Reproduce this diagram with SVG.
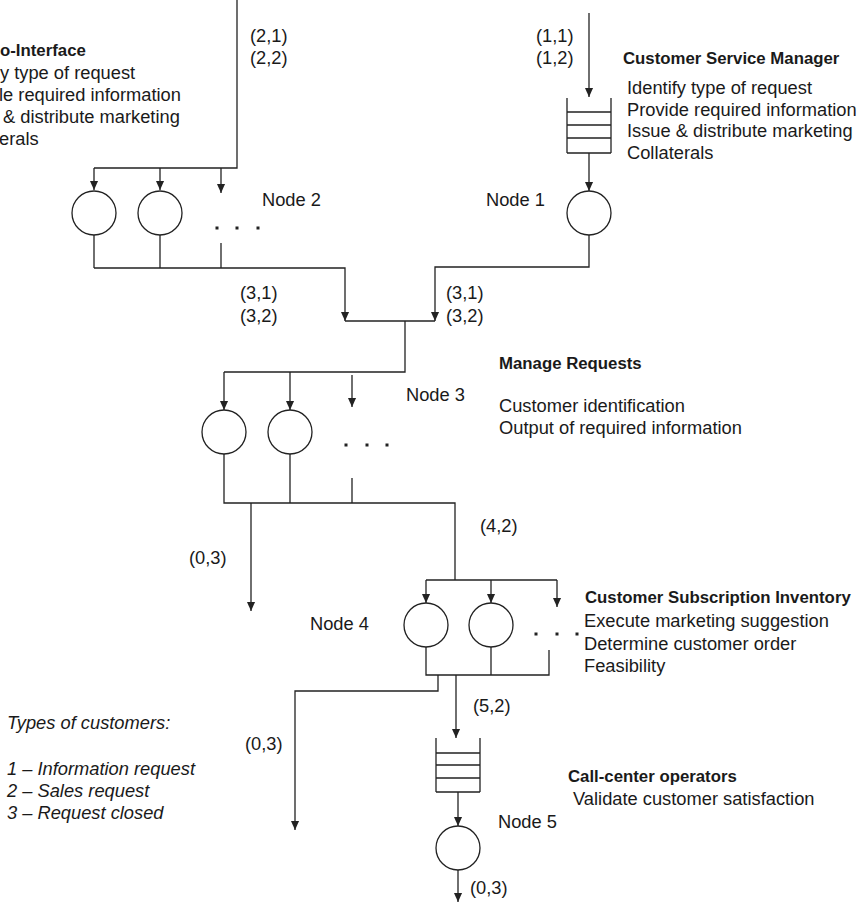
<svg xmlns="http://www.w3.org/2000/svg" width="862" height="904" viewBox="0 0 862 904">
  <defs>
    <marker id="arrow" viewBox="0 0 10 10" refX="10" refY="5" markerWidth="9" markerHeight="9" markerUnits="userSpaceOnUse" orient="auto">
      <path d="M0,0.5 L10,5 L0,9.5 z" fill="#222"/>
    </marker>
    <style>
      .ln { fill: none; stroke: #222; stroke-width: 1.3; }
      .arr { fill: none; stroke: #222; stroke-width: 1.3; marker-end: url(#arrow); }
      .srv { fill: #fff; stroke: #222; stroke-width: 1.3; }
      .q { fill: none; stroke: #222; stroke-width: 1.3; }
      .dot { fill: #222; }
      text { font-family: "Liberation Sans", Arial, sans-serif; font-size: 18.3px; fill: #1a1a1a; }
      .t { font-weight: bold; font-size: 16.8px; }
      .lg { font-style: italic; font-size: 18.3px; }
    </style>
  </defs>
  <rect width="862" height="904" fill="#fff"/>

  <!-- connectors -->
  <g id="connectors">
    <!-- into node 2 -->
    <path class="ln" d="M237,0 V168 H94"/>
    <path class="arr" d="M94,168 V190"/>
    <path class="arr" d="M160,168 V190"/>
    <path class="arr" d="M221,168 V193"/>
    <!-- node 2 outputs to junction -->
    <path class="ln" d="M94,235 V268"/>
    <path class="ln" d="M160,235 V268"/>
    <path class="ln" d="M221,243 V268"/>
    <path class="arr" d="M94,268 H345 V321"/>
    <!-- into node 1 -->
    <path class="arr" d="M589,13 V97"/>
    <path class="arr" d="M589,153 V191"/>
    <path class="arr" d="M589,235 V267 H435 V321"/>
    <!-- junction to node 3 -->
    <path class="ln" d="M345,321 H435"/>
    <path class="ln" d="M405,321 V372 H224"/>
    <path class="arr" d="M224,372 V410"/>
    <path class="arr" d="M290,372 V410"/>
    <path class="arr" d="M352,375 V407"/>
    <!-- node 3 outputs -->
    <path class="ln" d="M224,454 V503 H455 V580"/>
    <path class="ln" d="M290,454 V503"/>
    <path class="ln" d="M352,478 V503"/>
    <path class="arr" d="M251,503 V611"/>
    <!-- into node 4 -->
    <path class="ln" d="M426,580 H557"/>
    <path class="arr" d="M426,580 V603"/>
    <path class="arr" d="M491,580 V603"/>
    <path class="arr" d="M557,580 V607"/>
    <!-- node 4 outputs -->
    <path class="ln" d="M426,647 V675 H549 V650"/>
    <path class="ln" d="M491,647 V675"/>
    <path class="arr" d="M438,675 V691 H295 V830"/>
    <path class="arr" d="M456,675 V738"/>
    <!-- node 5 -->
    <path class="arr" d="M458,792 V826"/>
    <path class="arr" d="M458,870 V902"/>
  </g>

  <!-- routing labels -->
  <g id="routing-labels">
    <text x="250" y="41.5">(2,1)</text>
    <text x="250" y="63.5">(2,2)</text>
    <text x="536" y="41.5">(1,1)</text>
    <text x="536" y="63.5">(1,2)</text>
    <text x="240" y="298.5">(3,1)</text>
    <text x="240" y="321.5">(3,2)</text>
    <text x="446" y="298.5">(3,1)</text>
    <text x="446" y="321.5">(3,2)</text>
    <text x="480" y="531.5">(4,2)</text>
    <text x="189" y="563.5">(0,3)</text>
    <text x="245" y="749.5">(0,3)</text>
    <text x="473" y="711.5">(5,2)</text>
    <text x="470" y="893.5">(0,3)</text>
  </g>

  <!-- node 1: customer service manager -->
  <g id="node1">
    <path class="q" d="M567,98 V153 M611,98 V153 M567,112 H611 M567,125 H611 M567,138 H611 M567,153 H611"/>
    <circle class="srv" cx="589" cy="213" r="22"/>
    <text x="486" y="206">Node 1</text>
    <text class="t" x="623" y="64">Customer Service Manager</text>
    <text x="627" y="94">Identify type of request</text>
    <text x="627" y="115.5">Provide required information</text>
    <text x="627" y="137">Issue &amp; distribute marketing</text>
    <text x="627" y="158.5">Collaterals</text>
  </g>

  <!-- node 2: interface stations -->
  <g id="node2">
    <circle class="srv" cx="94" cy="213" r="22"/>
    <circle class="srv" cx="160" cy="213" r="22"/>
    <rect class="dot" x="215.5" y="226.5" width="3" height="3"/>
    <rect class="dot" x="235.5" y="226.5" width="3" height="3"/>
    <rect class="dot" x="256.5" y="226.5" width="3" height="3"/>
    <text x="262" y="206">Node 2</text>
    <text class="t" x="0" y="56">o-Interface</text>
    <text x="0" y="79">y type of request</text>
    <text x="-1" y="101">le required information</text>
    <text x="3" y="123">&amp; distribute marketing</text>
    <text x="-1" y="145">erals</text>
  </g>

  <!-- node 3: manage requests -->
  <g id="node3">
    <circle class="srv" cx="224" cy="432" r="22"/>
    <circle class="srv" cx="290" cy="432" r="22"/>
    <rect class="dot" x="344.5" y="443.5" width="3" height="3"/>
    <rect class="dot" x="365.5" y="443.5" width="3" height="3"/>
    <rect class="dot" x="385.5" y="443.5" width="3" height="3"/>
    <text x="406" y="401">Node 3</text>
    <text class="t" x="499" y="369">Manage Requests</text>
    <text x="499" y="411.5">Customer identification</text>
    <text x="499" y="433.5">Output of required information</text>
  </g>

  <!-- node 4: customer subscription inventory -->
  <g id="node4">
    <circle class="srv" cx="426" cy="625" r="22"/>
    <circle class="srv" cx="491" cy="625" r="22"/>
    <rect class="dot" x="534.5" y="632.5" width="3" height="3"/>
    <rect class="dot" x="555.5" y="632.5" width="3" height="3"/>
    <rect class="dot" x="575.5" y="632.5" width="3" height="3"/>
    <text x="310" y="629.5">Node 4</text>
    <text class="t" x="585" y="603">Customer Subscription Inventory</text>
    <text x="584" y="626.5">Execute marketing suggestion</text>
    <text x="584" y="649.5">Determine customer order</text>
    <text x="584" y="671.5">Feasibility</text>
  </g>

  <!-- node 5: call-center operators -->
  <g id="node5">
    <path class="q" d="M436,738 V792 M480,738 V792 M436,753 H480 M436,765 H480 M436,778 H480 M436,792 H480"/>
    <circle class="srv" cx="458" cy="848" r="22"/>
    <text x="498" y="827.5">Node 5</text>
    <text class="t" x="568" y="782">Call-center operators</text>
    <text x="573" y="804.5">Validate customer satisfaction</text>
  </g>

  <!-- legend -->
  <g id="legend">
    <text class="lg" x="7" y="728.5">Types of customers:</text>
    <text class="lg" x="7" y="774.5">1 – Information request</text>
    <text class="lg" x="7" y="796.5">2 – Sales request</text>
    <text class="lg" x="7" y="818.5">3 – Request closed</text>
  </g>
</svg>
